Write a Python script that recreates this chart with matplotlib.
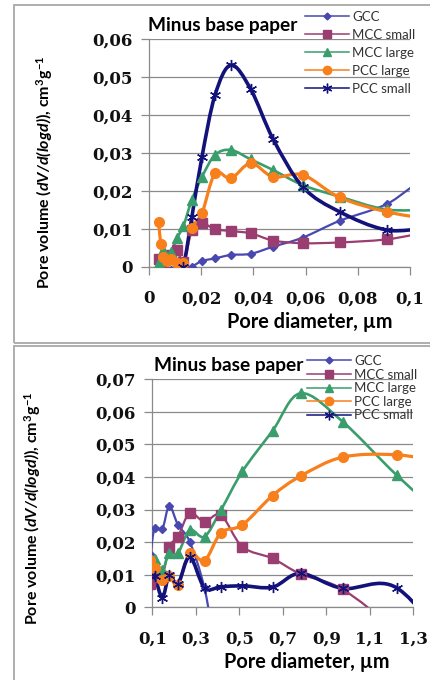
import numpy as np
import matplotlib
matplotlib.use("Agg")
import matplotlib.pyplot as plt
from matplotlib.path import Path
from matplotlib.patches import PathPatch, Rectangle
from matplotlib.lines import Line2D

plt.rcParams['mathtext.fontset'] = 'custom'
plt.rcParams['mathtext.rm'] = 'Lato'
plt.rcParams['mathtext.bf'] = 'Lato:bold'
plt.rcParams['mathtext.bfit'] = 'Lato:bold:italic'
plt.rcParams['mathtext.it'] = 'Lato:italic'

# pore diameter (um), shared by both panels
diam = [0.0037, 0.0045, 0.0055, 0.0069, 0.0086, 0.0107, 0.0132, 0.0164, 0.0203,
        0.0253, 0.0314, 0.039, 0.0476, 0.059, 0.073, 0.091, 0.111, 0.146, 0.178,
        0.218, 0.272, 0.340, 0.416, 0.514, 0.653, 0.782, 0.975, 1.223, 1.5]

gcc = [0.0, 0.0, -0.0005, -0.001, -0.001, -0.001, -0.001, 0.0, 0.0015,
       0.0022, 0.0031, 0.0034, 0.0053, 0.0077, 0.0121, 0.0165, 0.0243, 0.0240, 0.0311,
       0.0253, 0.0201, 0.0058, -0.02, -0.03, -0.03, -0.03, -0.03, -0.03, -0.03]
mcc_small = [0.002, 0.0015, 0.001, 0.002, 0.003, 0.0045, 0.0013, 0.0097, 0.0115,
             0.0099, 0.0094, 0.0088, 0.0069, 0.0062, 0.0064, 0.0072, 0.0092, 0.0095, 0.0186,
             0.0217, 0.0289, 0.0263, 0.0283, 0.0186, 0.015, 0.0102, 0.0055, -0.008, -0.03]
mcc_large = [0.001, 0.002, 0.0044, 0.002, 0.004, 0.0075, 0.0108, 0.0176, 0.0237,
             0.0295, 0.0308, 0.0283, 0.0255, 0.0215, 0.0185, 0.0151, 0.0147, 0.0115, 0.0166,
             0.0166, 0.0237, 0.0217, 0.0299, 0.0417, 0.0542, 0.0657, 0.057, 0.0406, 0.024]
pcc_large = [0.0117, 0.006, 0.0025, 0.0015, 0.002, 0.001, 0.001, 0.0101, 0.0141,
             0.0246, 0.0233, 0.0273, 0.0237, 0.0242, 0.0183, 0.0145, 0.0122, 0.0084, 0.0096,
             0.0070, 0.0166, 0.0143, 0.0229, 0.0253, 0.0343, 0.0403, 0.0461, 0.0468, 0.044]
pcc_small = [-0.003, -0.003, -0.003, -0.003, -0.003, -0.003, 0.0, 0.013, 0.029,
             0.0453, 0.0532, 0.0468, 0.0336, 0.021, 0.0145, 0.0097, 0.0095, 0.003, 0.0098,
             0.0072, 0.0155, 0.006, 0.0063, 0.0066, 0.0062, 0.0104, 0.0058, 0.0060, -0.015]

names = ['GCC', 'MCC small', 'MCC large', 'PCC large', 'PCC small']
series = [gcc, mcc_small, mcc_large, pcc_large, pcc_small]
colors = ['#4848b0', '#9a3d70', '#3a9e6c', '#f7801c', '#12127a']
markers = ['D', 's', '^', 'o', (6, 2, 0)]
msizes = [4.5, 7, 6.5, 7, 8]
lwidths = [1.6, 1.6, 1.9, 2.3, 2.6]

top_yticks = [0, 0.01, 0.02, 0.03, 0.04, 0.05, 0.06]
top_ylabels = ['0', '0,01', '0,02', '0,03', '0,04', '0,05', '0,06']
top_xticks = [0, 0.02, 0.04, 0.06, 0.08, 0.1]
top_xlabels = ['0', '0,02', '0,04', '0,06', '0,08', '0,1']
bot_yticks = [0, 0.01, 0.02, 0.03, 0.04, 0.05, 0.06, 0.07]
bot_ylabels = ['0', '0,01', '0,02', '0,03', '0,04', '0,05', '0,06', '0,07']
bot_xticks = [0.1, 0.3, 0.5, 0.7, 0.9, 1.1, 1.3]
bot_xlabels = ['0,1', '0,3', '0,5', '0,7', '0,9', '1,1', '1,3']

W, H = 431, 680
GRID = '#8a8a8a'
SANS = 'Lato'


def smooth_path(x, y):
    # Excel-style smoothed line: cubic Bezier through each point
    pts = np.column_stack([x, y])
    n = len(pts)
    verts = [pts[0]]
    codes = [Path.MOVETO]
    for i in range(n - 1):
        p0 = pts[max(i - 1, 0)]
        p1 = pts[i]
        p2 = pts[i + 1]
        p3 = pts[min(i + 2, n - 1)]
        verts += [p1 + (p2 - p0) / 6, p2 - (p3 - p1) / 6, p2]
        codes += [Path.CURVE4] * 3
    return Path(verts, codes)


def draw_panel(ax, xlim, ylim, xticks, xlabels, yticks, ylabels):
    x = np.array(diam)
    for vals, c, m, ms, lw in zip(series, colors, markers, msizes, lwidths):
        y = np.array(vals)
        ax.add_patch(PathPatch(smooth_path(x, y), fill=False, edgecolor=c, lw=lw, zorder=3))
        if m == (6, 2, 0):
            ax.plot(x, y, linestyle='none', marker=m, ms=ms, mec=c, mew=1.0, zorder=4)
        else:
            ax.plot(x, y, linestyle='none', marker=m, ms=ms, mfc=c, mec=c, zorder=4)
    ax.set_xlim(*xlim)
    ax.set_ylim(*ylim)
    ax.set_xticks(xticks)
    ax.set_xticklabels(xlabels)
    ax.set_yticks(yticks)
    ax.set_yticklabels(ylabels)
    ax.grid(axis='y', color=GRID, lw=0.9)
    ax.set_axisbelow(True)
    for s in ['top', 'right']:
        ax.spines[s].set_visible(False)
    for s in ['left', 'bottom']:
        ax.spines[s].set_color(GRID)
        ax.spines[s].set_linewidth(0.9)
    ax.tick_params(axis='both', direction='out', length=6, color=GRID, width=0.9,
                   labelsize=12, labelcolor='#111111')
    ax.tick_params(axis='x', pad=11)
    ax.tick_params(axis='y', pad=6)
    for lab in ax.get_xticklabels() + ax.get_yticklabels():
        lab.set_fontfamily('DejaVu Serif')
        lab.set_fontweight('semibold')
    ax.set_xlabel('Pore diameter, \u00b5m', fontfamily=SANS, fontweight='bold', fontsize=14.3)
    ax.set_ylabel(r'Pore volume ($\mathbfit{dV/d(logd)}$), cm$^{\mathbf{3}}$g$^{\mathbf{-1}}$',
                  fontfamily=SANS, fontweight='bold', fontsize=11.5)


def legend_handles():
    hs = []
    for c, m, ms, name in zip(colors, markers, msizes, names):
        if m == (6, 2, 0):
            hs.append(Line2D([], [], color=c, lw=1.1, marker=m, ms=ms - 1, mec=c, label=name))
        else:
            hs.append(Line2D([], [], color=c, lw=1.1, marker=m, ms=ms - 1, mfc=c, mec=c, label=name))
    return hs


fig = plt.figure(figsize=(W / 100, H / 100), dpi=100)

# panel frames
fig.patches.append(Rectangle((14 / W, 1 - 343 / H), 1.0, (343 - 5) / H, transform=fig.transFigure,
                             fill=False, edgecolor='#a8a8a8', lw=1.3))
fig.patches.append(Rectangle((14 / W, 1 - 700 / H), 1.0, (700 - 346) / H, transform=fig.transFigure,
                             fill=False, edgecolor='#a8a8a8', lw=1.3))

ax1 = fig.add_axes([149 / W, 1 - 266.7 / H, 261 / W, 227.4 / H])
draw_panel(ax1, (0, 0.1), (0, 0.06), top_xticks, top_xlabels, top_yticks, top_ylabels)
ax1.xaxis.set_label_coords(0.617, -0.2)
ax1.yaxis.set_label_coords(-0.36, 0.416)

ax2 = fig.add_axes([152.3 / W, 1 - 607.3 / H, 261 / W, 228 / H])
draw_panel(ax2, (0.1, 1.3), (0, 0.07), bot_xticks, bot_xlabels, bot_yticks, bot_ylabels)
ax2.xaxis.set_label_coords(0.593, -0.195)
ax2.yaxis.set_label_coords(-0.42, 0.435)

fig.text(148 / W, 1 - 25 / H, 'Minus base paper', fontfamily=SANS, fontweight='bold',
         fontsize=13.8, ha='left', va='center')
fig.text(154 / W, 1 - 365 / H, 'Minus base paper', fontfamily=SANS, fontweight='bold',
         fontsize=13.8, ha='left', va='center')

leg_kw = dict(frameon=False, loc='upper left', borderpad=0, borderaxespad=0, handlelength=3.3,
              handletextpad=0.3, prop={'family': SANS, 'size': 9.5}, labelcolor='#333333')
fig.legend(handles=legend_handles(), bbox_to_anchor=(305 / W, 1 - 11 / H), labelspacing=0.45, **leg_kw)
fig.legend(handles=legend_handles(), bbox_to_anchor=(307 / W, 1 - 355 / H), labelspacing=0.12, **leg_kw)

fig.savefig('out.png', dpi=100, facecolor='white')
